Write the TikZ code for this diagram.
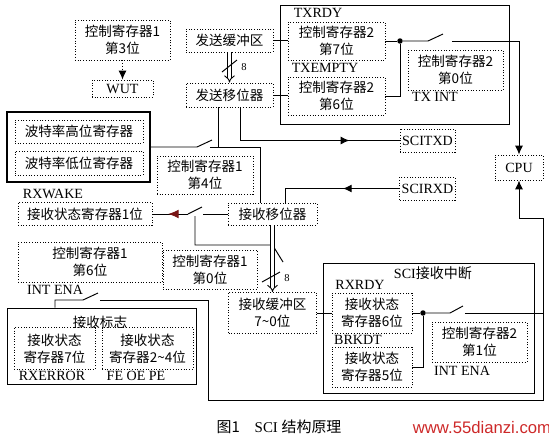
\documentclass[tikz,border=0pt]{standalone}
\usepackage{fontspec}
\setmainfont{Liberation Serif}
\newfontfamily\cjk{Noto Sans CJK SC}
\newfontfamily\wmfont{Liberation Sans}
\usetikzlibrary{arrows.meta,decorations.markings}
\definecolor{wmred}{RGB}{205,40,40}
\definecolor{tipred}{RGB}{120,20,20}

\begin{document}
\begin{tikzpicture}[x=0.02cm,y=-0.02cm,line width=0.55pt,
  >={Latex[length=5pt,width=4.5pt]},
  box/.style={draw,densely dotted,inner sep=1pt,align=center,font=\cjk\fontsize{7.7}{9.5}\selectfont},
  lat/.style={font=\fontsize{8}{9.5}\selectfont},
  grp/.style={draw,inner sep=0pt},
  lbl/.style={inner sep=0pt,font=\fontsize{8}{9.5}\selectfont},
  cjklbl/.style={inner sep=0pt,font=\cjk\fontsize{7.7}{9.5}\selectfont},
  dbl/.style={double,double distance=1.6pt,line width=0.5pt,-{Implies}},
  dot/.style={circle,fill,inner sep=1.1pt},
  midarrow/.style={postaction={decorate},decoration={markings,
    mark=at position #1 with {\arrow{Latex[length=5pt,width=4.5pt]}}}},
  redarrow/.style={postaction={decorate},decoration={markings,
    mark=at position #1 with {\arrow[color=tipred]{Latex[length=6pt,width=5pt]}}}}]
  \useasboundingbox (0,0) rectangle (549,444);
  % 发送部分
  \node[box,minimum width=1.9cm,minimum height=0.8cm] (reg1b3) at (122.5,40) {控制寄存器1\\第3位};
  \node[box,lat,minimum width=1.22cm,minimum height=0.34cm] (wut) at (122.5,88.5) {WUT};
  \node[box,minimum width=1.74cm,minimum height=0.46cm] (txbuf) at (229.5,40.5) {发送缓冲区};
  \node[box,minimum width=1.74cm,minimum height=0.48cm] (txsh) at (229.5,95) {发送移位器};
  \node[grp,minimum width=4.6cm,minimum height=2.38cm] (txgrp) at (395,64.5) {};
  \node[lbl] (txrdy) at (318,13) {TXRDY};
  \node[box,minimum width=1.94cm,minimum height=0.76cm] (reg2b7) at (336.5,41) {控制寄存器2\\第7位};
  \node[lbl] (txempty) at (325,68) {TXEMPTY};
  \node[box,minimum width=1.94cm,minimum height=0.76cm] (reg2b6) at (336.5,96) {控制寄存器2\\第6位};
  \node[dot] (txdot) at (400,41) {};
  \node[box,minimum width=1.9cm,minimum height=0.8cm] (reg2b0) at (455.5,70) {控制寄存器2\\第0位};
  \node[lbl] (txint) at (435,96.5) {TX INT};
  \node[box,lat,minimum width=0.96cm,minimum height=0.5cm] (cpu) at (519,167.5) {CPU};
  \node[box,lat,minimum width=1.1cm,minimum height=0.46cm] (sctxd) at (427.5,140.5) {SCITXD};
  \node[box,lat,minimum width=1.1cm,minimum height=0.46cm] (scrxd) at (427.5,188.5) {SCIRXD};
  % 波特率
  \node[grp,line width=0.8pt,minimum width=2.86cm,minimum height=1.4cm] (baud) at (78.5,147) {};
  \node[box,minimum width=2.56cm,minimum height=0.46cm] (baudh) at (79,131.5) {波特率高位寄存器};
  \node[box,minimum width=2.56cm,minimum height=0.48cm] (baudl) at (79,163) {波特率低位寄存器};
  \node[box,minimum width=1.92cm,minimum height=0.76cm] (reg1b4) at (205,175) {控制寄存器1\\第4位};
  % 接收部分
  \node[box,minimum width=1.78cm,minimum height=0.44cm] (rxsh) at (272.5,214) {接收移位器};
  \node[lbl] (rxwake) at (53,194) {RXWAKE};
  \node[box,minimum width=2.68cm,minimum height=0.46cm] (rxst1) at (85,214) {接收状态寄存器1位};
  \node[box,minimum width=2.88cm,minimum height=0.8cm] (reg1b6) at (90,262) {控制寄存器1\\第6位};
  \node[box,minimum width=1.88cm,minimum height=0.78cm] (reg1b0) at (210,269.5) {控制寄存器1\\第0位};
  \node[lbl] (intena) at (55,290) {INT ENA};
  \node[grp,minimum width=3.8cm,minimum height=1.52cm] (rxflag) at (102,346) {};
  \node[cjklbl] (rxflagt) at (100,322) {接收标志};
  \node[box,minimum width=1.62cm,minimum height=0.84cm] (rxst7) at (54.5,348.5) {接收状态\\寄存器7位};
  \node[box,minimum width=1.82cm,minimum height=0.84cm] (rxst24) at (147.5,348.5) {接收状态\\寄存器2\textasciitilde4位};
  \node[lbl] (rxerr) at (52,376) {RXERROR};
  \node[lbl] (feoepe) at (136,376) {FE OE PE};
  \node[box,minimum width=1.76cm,minimum height=0.82cm] (rxbuf) at (272.5,313) {接收缓冲区\\7\textasciitilde0位};
  \node[grp,minimum width=4.24cm,minimum height=2.6cm] (rxint) at (429,328) {};
  \node[lbl] (rxintt) at (433,273) {SCI{\cjk 接收中断}};
  \node[lbl] (rxrdy) at (360,285) {RXRDY};
  \node[box,minimum width=1.6cm,minimum height=0.8cm] (rxst6) at (372,313) {接收状态\\寄存器6位};
  \node[lbl] (brkdt) at (358,340) {BRKDT};
  \node[box,minimum width=1.6cm,minimum height=0.8cm] (rxst5) at (372,367) {接收状态\\寄存器5位};
  \node[dot] (rxdot) at (423,313) {};
  \node[box,minimum width=1.9cm,minimum height=0.8cm] (reg2b1) at (479.5,342) {控制寄存器2\\第1位};
  \node[lbl] (intena2) at (462,370.5) {INT ENA};
  % 图题
  \node[lbl,font=\fontsize{8.5}{10}\selectfont] (cap) at (279,427) {{\cjk 图1}\quad SCI {\cjk 结构原理}};
  \node[inner sep=0pt,text=wmred,font=\wmfont\fontsize{9.5}{11}\selectfont] (wm) at (482,428) {www.55dianzi.com};

  % 开关触点
  \coordinate (txswA) at (428,41);
  \coordinate (txswB) at (443,34);
  \coordinate (txswC) at (452,41);
  \coordinate (bdA) at (197,147);
  \coordinate (bdB) at (212,140);
  \coordinate (bdC) at (210,147);
  \coordinate (rwA) at (203,214);
  \coordinate (rwB) at (202,207);
  \coordinate (rwC) at (188,214);
  \coordinate (rwD) at (195,216);
  \coordinate (rxtap) at (272.5,245);
  \coordinate (rxenB) at (283,262);
  \coordinate (riA) at (450,313);
  \coordinate (riB) at (463,306);
  \coordinate (riC) at (465,313);
  \coordinate (riD) at (543,313);
  \coordinate (efA) at (83,300);
  \coordinate (efB) at (98,293);
  \coordinate (efC) at (100,300);
  \coordinate (efD) at (208,400);
  \coordinate (cpuR) at (543,400);
  \coordinate (cpuB) at (543,218);

  % 发送通路
  \draw[densely dotted,->] (reg1b3) -- (wut);
  \draw[dbl] (txbuf) -- (txsh);
  \draw (222,72) -- (237,60);
  \node[lbl,font=\fontsize{6}{7}\selectfont] (n8a) at (244,67) {8};
  \draw (txbuf.east) -- (txbuf.east -| reg2b7.west);
  \draw (txsh.east) -- (txsh.east -| reg2b6.west);
  \draw (reg2b7.east) -- (txdot);
  \draw (reg2b6.east) -| (txdot);
  \draw (txdot) -- (txswA) -- (txswB);
  \draw[->] (txswC) -| (cpu.north);
  \draw[midarrow=0.74] ([xshift=0.21cm]txsh.south) |- (sctxd.west);
  % 波特率开关
  \draw (baud.east) -- (bdA) -- (bdB);
  \draw (bdC) -| ([xshift=-0.25cm]rxsh.north);
  \draw ([xshift=-0.23cm]txsh.south) -- ([xshift=-0.23cm]txsh.south |- bdC);
  % 接收通路
  \draw[midarrow=0.44] (scrxd.west) -| ([xshift=0.25cm]rxsh.north);
  \draw (rxsh.west) -- (rwA);
  \draw (rwB) -- (rwC);
  \draw[redarrow=0.56] (rwC) -- (rxst1.east);
  \draw (rwD) |- (rxtap) -- (rxenB);
  \draw[dbl] (rxsh) -- (rxbuf);
  \draw (262,282) -- (280,272);
  \node[lbl,font=\fontsize{6}{7}\selectfont] (n8b) at (287,278) {8};
  \draw (rxbuf.east) -- (rxst6.west);
  \draw (rxst6.east) -- (rxdot);
  \draw (rxst5.east) -| (rxdot);
  \draw (rxdot) -- (riA) -- (riB);
  \draw (riC) -- (riD);
  % 接收标志 → CPU
  \draw ([xshift=-0.94cm]rxflag.north) |- (efA) -- (efB);
  \draw[->] (efC) -| (efD) -- (cpuR) -- (cpuB) -| (cpu.south);
\end{tikzpicture}
\end{document}
